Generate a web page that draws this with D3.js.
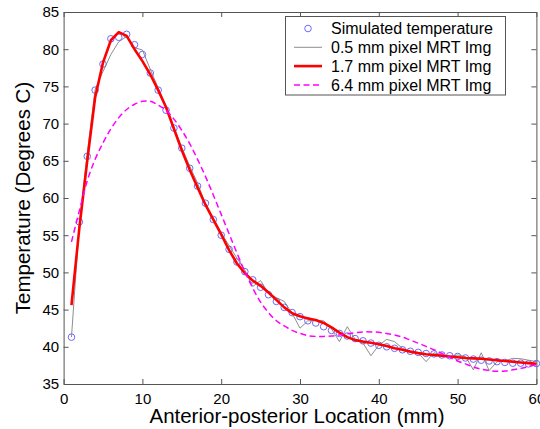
<!DOCTYPE html>
<html><head><meta charset="utf-8">
<script src="https://cdn.jsdelivr.net/npm/d3@7/dist/d3.min.js"></script>
<style>
body{margin:0;background:#fff}
svg{display:block}
text{font-family:"Liberation Sans",Arial,Helvetica,sans-serif;fill:#000}
</style>
</head><body>
<svg id="c" width="540" height="429"></svg>
<script>
// ---- data ----
const locationMm = [1,2,3,4,5,6,7,8,9,10,11,12,13,14,15,16,17,18,19,20,
  21,22,23,24,25,26,27,28,29,30,31,32,33,34,35,36,37,38,39,40,
  41,42,43,44,45,46,47,48,49,50,51,52,53,54,55,56,57,58,59,60];
const simulatedTemp = [41.3,56.8,65.6,74.5,78.0,81.4,81.6,82.0,80.6,79.3,
  76.8,74.5,71.8,69.4,66.7,64.0,61.6,59.3,57.1,55.0,
  53.1,51.4,50.1,49.0,48.0,47.0,46.1,45.3,44.6,44.05,
  43.5,43.2,42.7,42.2,41.8,41.45,41.1,40.8,40.5,40.2,
  40.0,39.8,39.6,39.4,39.25,39.1,39.05,38.9,38.8,38.7,
  38.5,38.35,38.2,38.1,38.0,37.9,37.8,37.8,37.7,37.75];
const mrt05 = [41.3,56.5,66.0,74.6,77.0,79.3,81.0,81.7,80.2,79.9,
  77.3,74.8,72.3,69.5,66.8,64.3,62.0,59.2,57.3,55.3,
  53.6,51.9,50.3,48.1,48.9,47.2,46.6,46.1,44.5,42.5,
  43.5,43.5,43.5,42.4,40.7,42.7,41.0,40.5,38.8,40.2,
  41.0,40.7,39.8,39.3,39.2,38.0,39.2,38.9,38.7,38.9,
  38.7,36.9,39.2,36.8,38.0,38.1,38.45,38.4,38.2,38.0];
const mrt17 = [45.6,56.0,65.0,73.5,78.2,81.2,82.3,81.8,80.0,78.4,
  76.6,74.5,72.2,69.3,66.4,63.8,61.4,59.1,57.1,55.1,
  53.0,51.2,49.9,48.9,48.2,47.3,46.3,45.3,44.5,44.1,
  43.8,43.6,43.2,42.6,41.9,41.3,40.9,40.7,40.55,40.35,
  40.1,39.8,39.6,39.35,39.15,39.0,38.9,38.8,38.7,38.6,
  38.5,38.45,38.4,38.3,38.2,38.1,38.0,37.9,37.8,37.7];
const mrt64 = [54.1,58.3,62.3,65.2,67.4,69.3,70.8,71.9,72.6,73.0,
  73.0,72.5,71.8,70.6,69.1,67.3,65.2,62.9,60.4,57.8,
  55.2,52.6,50.1,47.9,46.0,44.6,43.5,42.8,42.2,41.8,
  41.5,41.4,41.4,41.45,41.6,41.75,41.9,42.0,42.0,41.95,
  41.8,41.6,41.3,40.9,40.5,40.05,39.6,39.1,38.6,38.1,
  37.7,37.3,37.0,36.8,36.7,36.75,36.9,37.1,37.35,37.6];
const xTicks = [0,10,20,30,40,50,60];
const yTicks = [35,40,45,50,55,60,65,70,75,80,85];
const seriesNames = ["Simulated temperature","0.5 mm pixel MRT Img","1.7 mm pixel MRT Img","6.4 mm pixel MRT Img"];
const xLabel = "Anterior-posterior Location (mm)";
const yLabel = "Temperature (Degrees C)";

// ---- layout ----
const L = 63.6, R = 536.4, T = 12, B = 384;
const axisColor = "#555";
const svg = d3.select("#c");
const x = d3.scaleLinear().domain([0,60]).range([L,R]);
const y = d3.scaleLinear().domain([35,85]).range([B,T]);

function styleAxis(g, showText){
  g.attr("font-family", null).attr("font-size", null);
  g.selectAll(".domain").attr("stroke", axisColor).attr("stroke-width", 1);
  g.selectAll(".tick line").attr("stroke", axisColor).attr("stroke-width", 1);
  g.selectAll(".tick text").attr("font-size", "15px").attr("fill", "#000");
}
svg.append("g").attr("transform",`translate(0,${B})`)
  .call(d3.axisBottom(x).tickValues(xTicks).tickSize(-5).tickSizeOuter(0).tickPadding(9))
  .call(styleAxis);
svg.append("g").attr("transform",`translate(0,${T})`)
  .call(d3.axisTop(x).tickValues(xTicks).tickSize(-5).tickSizeOuter(0).tickFormat(""))
  .call(styleAxis);
svg.append("g").attr("transform",`translate(${L},0)`)
  .call(d3.axisLeft(y).tickValues(yTicks).tickSize(-5).tickSizeOuter(0).tickPadding(4.5))
  .call(styleAxis);
svg.append("g").attr("transform",`translate(${R},0)`)
  .call(d3.axisRight(y).tickValues(yTicks).tickSize(-5).tickSizeOuter(0).tickFormat(""))
  .call(styleAxis);

// ---- series ----
const pts = a => locationMm.map((v,i)=>[v,a[i]]);
const line = d3.line().x(d=>x(d[0])).y(d=>y(d[1]));
const smooth = d3.line().x(d=>x(d[0])).y(d=>y(d[1])).curve(d3.curveCatmullRom);

svg.append("g").selectAll("circle").data(pts(simulatedTemp)).join("circle")
  .attr("cx",d=>x(d[0])).attr("cy",d=>y(d[1])).attr("r",3.3)
  .attr("fill","none").attr("stroke","#5a5aff").attr("stroke-width",0.9);
svg.append("path").attr("d",line(pts(mrt05)))
  .attr("fill","none").attr("stroke","#808080").attr("stroke-width",0.9);
svg.append("path").attr("d",line(pts(mrt17)))
  .attr("fill","none").attr("stroke","#ff0000").attr("stroke-width",2.6).attr("stroke-linejoin","round");
svg.append("path").attr("d",smooth(pts(mrt64)))
  .attr("fill","none").attr("stroke","#ff00ff").attr("stroke-width",1.5).attr("stroke-dasharray","6,3.5");

// ---- labels ----
svg.append("text").attr("x",(L+R)/2-3).attr("y",423).attr("text-anchor","middle")
  .attr("font-size","20.5px").text(xLabel);
svg.append("text").attr("transform",`translate(30,198) rotate(-90)`).attr("text-anchor","middle")
  .attr("font-size","20.5px").text(yLabel);

// ---- legend ----
const lg = svg.append("g");
lg.append("rect").attr("x",285.5).attr("y",16.5).attr("width",220).attr("height",78.5)
  .attr("fill","#fff").attr("stroke",axisColor).attr("stroke-width",1);
const rowY = i => 28.5 + i*18.8;
const sx0 = 294, sx1 = 322;
lg.append("circle").attr("cx",(sx0+sx1)/2).attr("cy",rowY(0)).attr("r",3.3)
  .attr("fill","none").attr("stroke","#5a5aff").attr("stroke-width",0.9);
lg.append("line").attr("x1",sx0).attr("x2",sx1).attr("y1",rowY(1)).attr("y2",rowY(1))
  .attr("stroke","#808080").attr("stroke-width",0.9);
lg.append("line").attr("x1",sx0).attr("x2",sx1).attr("y1",rowY(2)).attr("y2",rowY(2))
  .attr("stroke","#ff0000").attr("stroke-width",2.6);
lg.append("line").attr("x1",sx0).attr("x2",sx1).attr("y1",rowY(3)).attr("y2",rowY(3))
  .attr("stroke","#ff00ff").attr("stroke-width",1.5).attr("stroke-dasharray","6,3.5");
lg.selectAll("text.lt").data(seriesNames).join("text").attr("class","lt")
  .attr("x",331).attr("y",(d,i)=>rowY(i)+5.8).attr("font-size","16px").text(d=>d);
</script>
</body></html>
